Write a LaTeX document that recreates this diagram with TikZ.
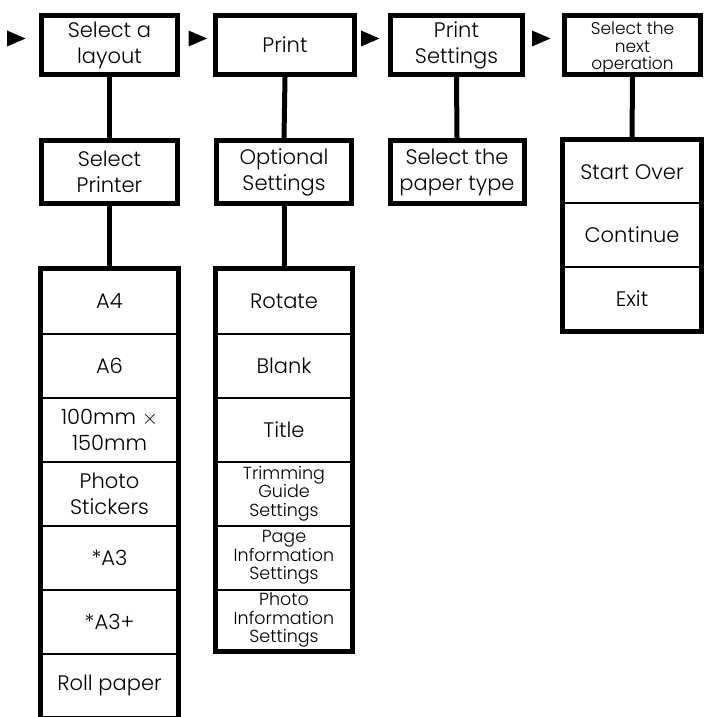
\documentclass[tikz,border=0pt]{standalone}
\usepackage{fontspec}
\setmainfont{Poppins Light}
\newcommand{\bigtxt}{\fontsize{21}{26}\selectfont}
\newcommand{\smalltxt}{\fontsize{17.5}{18.5}\selectfont}
\newcommand{\toptxt}{\fontsize{17}{17.5}\selectfont}
\begin{document}
\begin{tikzpicture}[x=1pt,y=-1pt,
  thick box/.style={draw, line width=5pt, align=center, inner sep=0pt, font=\bigtxt},
  cell/.style={draw, line width=2pt, align=center, inner sep=0pt, font=\bigtxt,
               minimum height=64pt},
  small/.style={font=\smalltxt},
  frame/.style={draw, line width=5pt},
  link/.style={draw, line width=5pt},
  tri/.style={fill=black}]
\useasboundingbox (0,0) rectangle (705,717);

% top row
\node[thick box, minimum width=136pt, minimum height=59pt] (layout) at (109.5,45) {Select a\\layout};
\node[thick box, minimum width=139pt, minimum height=59pt] (print) at (285,45) {Print};
\node[thick box, minimum width=132pt, minimum height=59pt] (pset) at (456.5,45) {Print\\Settings};
\node[thick box, font=\toptxt, minimum width=136pt, minimum height=59pt] (next) at (632.5,45) {\rule{0pt}{19pt}Select the\\next\\operation};

% triangles
\foreach \n/\x in {t1/16, t2/197.5, t3/370, t4/541}{
  \coordinate (\n) at (\x,38.5);
  \fill[tri] ([shift={(-9,-8)}]\n) -- ([shift={(9.5,0)}]\n) -- ([shift={(-9,8)}]\n) -- cycle;
}

% second row
\node[thick box, minimum width=136pt, minimum height=63pt] (printer) at (109.5,172) {Select\\Printer};
\node[thick box, minimum width=135pt, minimum height=63pt] (optional) at (284,172) {Optional\\Settings};
\node[thick box, minimum width=134pt, minimum height=63pt] (paper) at (457,172) {Select the\\paper type};

% next operation list
\node[cell, minimum width=137pt, minimum height=63.3pt] (start) at (632,171.8) {Start Over};
\node[cell, minimum width=137pt, minimum height=63.3pt] (cont) at (632,235.1) {Continue};
\node[cell, minimum width=137pt, minimum height=63.3pt] (exit) at (632,298.4) {Exit};
\draw[frame] (start.north west) rectangle (exit.south east);

% printer list
\node[cell, minimum width=136pt] (a4) at (109.5,301.5) {A4};
\node[cell, minimum width=136pt] (a6) at (109.5,365.5) {A6};
\node[cell, minimum width=136pt] (mm) at (109.5,429.5) {100mm $\times$\\150mm};
\node[cell, minimum width=136pt] (stick) at (109.5,493.5) {Photo\\Stickers};
\node[cell, minimum width=136pt] (a3) at (109.5,557.5) {*A3};
\node[cell, minimum width=136pt] (a3p) at (109.5,621.5) {*A3+};
\node[cell, minimum width=136pt] (roll) at (109.5,685.5) {Roll paper};
\draw[frame] (a4.north west) rectangle (roll.south east);

% optional list
\node[cell, minimum width=135pt] (rotate) at (284,301.5) {Rotate};
\node[cell, minimum width=135pt] (blank) at (284,365.5) {Blank};
\node[cell, minimum width=135pt] (title) at (284,429.5) {Title};
\node[cell, small, minimum width=135pt] (trim) at (284,493.5) {Trimming\\Guide\\Settings};
\node[cell, small, minimum width=135pt] (pageinfo) at (284,557.5) {Page\\Information\\Settings};
\node[cell, small, minimum width=135pt, minimum height=61pt] (photoinfo) at (284,620) {Photo\\Information\\Settings};
\draw[frame] (rotate.north west) rectangle (photoinfo.south east);

% connectors
\draw[link] (layout.south) -- (printer.north);
\draw[link] (printer.south) -- (a4.north);
\draw[link] (print.south) -- (optional.north);
\draw[link] (optional.south) -- (rotate.north);
\draw[link] (pset.south) -- (paper.north);
\draw[link] (next.south) -- (start.north);
\end{tikzpicture}
\end{document}
